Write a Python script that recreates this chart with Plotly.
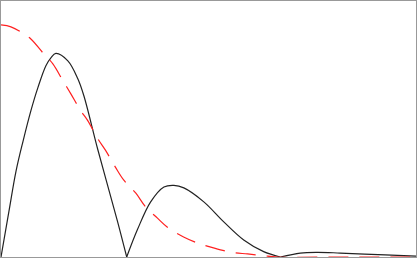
import plotly.graph_objects as go

# black curve samples (three lobes; cusps at indices 12 and 22)
x_black = [0.0, 0.192, 0.361, 0.529, 0.721, 0.889, 1.082, 1.202, 1.322, 1.611, 1.851, 1.995, 2.332, 2.812, 3.029,
           3.293, 3.606, 3.926, 4.166, 4.406, 4.887, 5.368, 5.849, 6.329, 6.731,
           7.212, 7.620, 8.173, 9.255, 10.0]
y_black = [0.0, 0.197, 0.368, 0.496, 0.629, 0.728, 0.822, 0.856, 0.875, 0.843, 0.766, 0.694, 0.462, 0.150, 0.0,
           0.120, 0.237, 0.301, 0.308, 0.297, 0.237, 0.151, 0.073, 0.023, 0.0,
           0.017, 0.020, 0.017, 0.009, 0.004]
cusps = [14, 24]

# red dashed curve samples
x_red = [0.0, 0.24, 0.48, 0.72, 1.03, 1.25, 1.49, 1.68, 1.92, 2.09, 2.33, 2.52, 2.76, 2.96,
         3.25, 3.49, 3.77, 4.01, 4.40, 4.74, 5.12, 5.53, 5.94, 6.32, 6.66, 8.0, 10.0]
y_red = [0.997, 0.989, 0.967, 0.937, 0.873, 0.830, 0.758, 0.702, 0.629, 0.586, 0.509, 0.458, 0.385, 0.330,
         0.274, 0.214, 0.167, 0.128, 0.086, 0.060, 0.039, 0.021, 0.013, 0.006, 0.0, 0.0, 0.0]

fig = go.Figure()
bounds = [0] + cusps + [len(x_black) - 1]
for a, b in zip(bounds[:-1], bounds[1:]):
    fig.add_trace(go.Scatter(x=x_black[a:b + 1], y=y_black[a:b + 1], mode="lines",
                             line=dict(color="#222222", width=1.2, shape="spline", smoothing=1.0),
                             showlegend=False, hoverinfo="skip"))
fig.add_trace(go.Scatter(x=x_red, y=y_red, mode="lines",
                         line=dict(color="#ff2020", width=1.2, shape="spline", smoothing=1.0,
                                   dash="20px,11px"),
                         showlegend=False, hoverinfo="skip"))

axis_common = dict(showgrid=False, zeroline=False, showticklabels=False, ticks="",
                   showline=True, linecolor="#999999", linewidth=1, mirror=True)
fig.update_xaxes(range=[0, 10], **axis_common)
fig.update_yaxes(range=[0, 1.1], **axis_common)
fig.update_layout(width=417, height=258, margin=dict(l=1, r=1, t=1, b=1),
                  paper_bgcolor="white", plot_bgcolor="white")
fig.write_html("out.html", config={"displayModeBar": False},
               post_script="document.body.style.margin='0';document.body.style.overflow='hidden';")
